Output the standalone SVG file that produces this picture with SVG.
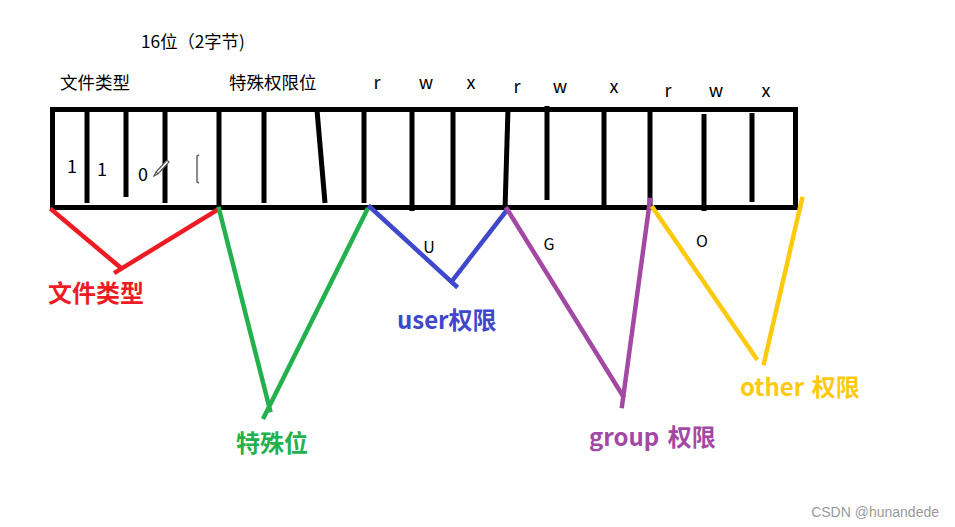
<svg xmlns="http://www.w3.org/2000/svg" width="955" height="527" viewBox="0 0 955 527">
<style>
.t{font-family:"Noto Sans CJK SC","Liberation Sans",sans-serif;fill:#000}
.h{font-size:17.5px}
.b{font-size:18px;text-anchor:middle}
.d{font-size:18px;text-anchor:middle}
.lbl{font-family:"Noto Sans CJK SC","Liberation Sans",sans-serif;font-size:24px;font-weight:bold}
.bar{stroke:#000;stroke-width:5;stroke-linecap:butt;fill:none}
.c{stroke-width:4.5;stroke-linecap:square;fill:none}
</style>
<rect width="955" height="527" fill="#fff"/>
<g id="header">
<text class="t" x="141" y="48" font-size="17.3">16位（2字节)</text>
<text class="t h" x="60" y="89">文件类型</text>
<text class="t h" x="229" y="89">特殊权限位</text>
<text class="t b" x="377" y="89">r</text>
<text class="t b" x="426" y="89">w</text>
<text class="t b" x="471" y="89">x</text>
<text class="t b" x="517" y="93">r</text>
<text class="t b" x="560" y="93">w</text>
<text class="t b" x="614" y="93">x</text>
<text class="t b" x="668" y="97">r</text>
<text class="t b" x="716" y="97">w</text>
<text class="t b" x="766" y="97">x</text>
</g>
<g id="register">
<rect x="52.5" y="109.5" width="743" height="98" class="bar"/>
<line class="bar" x1="87" y1="110" x2="87" y2="203"/>
<line class="bar" x1="126" y1="110" x2="126" y2="197"/>
<line class="bar" x1="165" y1="110" x2="165" y2="203"/>
<line class="bar" x1="219" y1="110" x2="219" y2="210"/>
<line class="bar" x1="264" y1="110" x2="264" y2="203"/>
<line class="bar" x1="317" y1="110" x2="325" y2="203"/>
<line class="bar" x1="364" y1="110" x2="364" y2="203"/>
<line class="bar" x1="412" y1="110" x2="412" y2="211"/>
<line class="bar" x1="453" y1="110" x2="453" y2="210"/>
<line class="bar" x1="508" y1="108" x2="505" y2="210"/>
<line class="bar" x1="547" y1="106" x2="547" y2="200"/>
<line class="bar" x1="604" y1="110" x2="604" y2="210"/>
<line class="bar" x1="650" y1="110" x2="650" y2="210"/>
<line class="bar" x1="704" y1="114" x2="704" y2="211"/>
<line class="bar" x1="752" y1="113" x2="752" y2="202"/>
<text class="t d" x="72" y="173">1</text>
<text class="t d" x="102" y="176">1</text>
<text class="t d" x="143" y="181">0</text>
<path d="M156,172 L167,160 L169,162 L158,174 Z M156,172 L154,176 L158,174" fill="#fff" stroke="#555" stroke-width="1.2"/>
<polyline points="199,155 197,156 197,182 199,183" fill="none" stroke="#666" stroke-width="1.5"/>
<text class="t" x="429" y="253" font-size="16" text-anchor="middle">U</text>
<text class="t" x="549" y="250" font-size="16" text-anchor="middle">G</text>
<text class="t" x="702" y="247" font-size="16" text-anchor="middle">O</text>
</g>
<g id="connectors">
<path class="c" stroke="#ED1C24" d="M52,210 L121,268 M217,210 L116,272"/>
<path class="c" stroke="#22B14C" d="M219,209 L270,410 M367,210 L264,417"/>
<path class="c" stroke="#3F48CC" d="M370,207 L456,286 M507,210 L452,281"/>
<path class="c" stroke="#A349A4" d="M507,209 L623,396 M650,200 L622,406"/>
<path class="c" stroke="#FFC90E" d="M653,208 L756,358 M802,199 L764,363"/>
</g>
<g id="label-filetype"><text class="lbl" x="48" y="302" fill="#ED1C24" font-size="23">文件类型</text></g>
<g id="label-special"><text class="lbl" x="236" y="452" fill="#22B14C" font-size="23">特殊位</text></g>
<g id="label-user"><text class="lbl" x="397" y="329" fill="#3F48CC">user权限</text></g>
<g id="label-group"><text class="lbl" x="589" y="446" fill="#A349A4" word-spacing="3">group 权限</text></g>
<g id="label-other"><text class="lbl" x="740" y="396" fill="#FFC90E" word-spacing="2">other 权限</text></g>
<g id="watermark"><text x="939" y="517" font-family="Liberation Sans, sans-serif" font-size="14" fill="#999" text-anchor="end">CSDN @hunandede</text></g>
</svg>
